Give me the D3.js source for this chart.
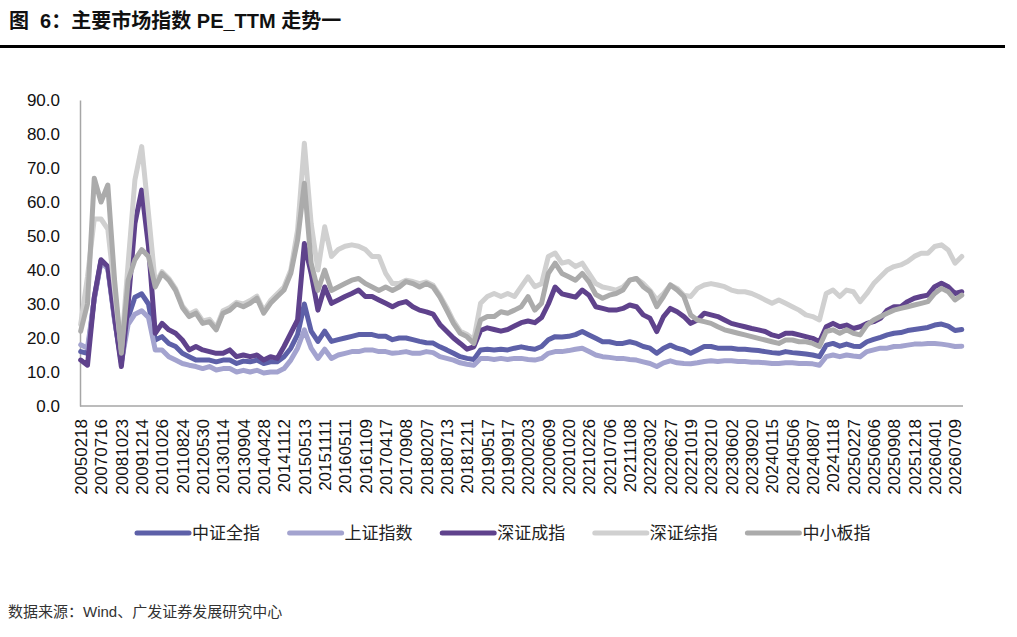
<!DOCTYPE html>
<html>
<head>
<meta charset="utf-8">
<script src="https://cdn.jsdelivr.net/npm/d3@7"></script>
<style>
  body { margin: 0; background: #fff; }
  svg text { font-family: "Liberation Sans", Arial, "Noto Sans CJK SC", sans-serif; }
</style>
</head>
<body>
<div id="main"></div>
<script>
// tick labels on the category axis; each label interval holds 3 samples
const xLabels = [
  "20050218", "20070716", "20081023", "20091214", "20101026", "20110824",
  "20120530", "20130114", "20130904", "20140428", "20141112", "20150513",
  "20151111", "20160511", "20161109", "20170417", "20170908", "20180207",
  "20180713", "20181211", "20190517", "20190917", "20200203", "20200609",
  "20201020", "20210226", "20210706", "20211108", "20220302", "20220627",
  "20221019", "20230210", "20230602", "20230920", "20240115", "20240506",
  "20240807", "20241118", "20250227", "20250606", "20250908", "20251218",
  "20260401", "20260709"
];
const stepsPerLabel = 3;

const seriesNames = ["中证全指", "上证指数", "深证成指", "深证综指", "中小板指"];
const seriesColors = ["#5d60a8", "#a3a3cf", "#5f428c", "#d0d0d0", "#ababab"];

// 中证全指
const zzqz = [
  16, 15.5, 31.7, 42.7, 40.7, 25.6, 13, 26, 32, 33,
  30, 19.4, 20.4, 18.4, 17.5, 15.5, 14.5, 13.5, 13.5, 13.5,
  13, 13.5, 13.5, 12.5, 13.2, 13, 13.5, 12.5, 13, 13,
  14.5, 17, 21, 30, 22, 19, 22, 19, 19.5, 20,
  20.5, 21, 21, 21, 20.5, 20.5, 19.5, 20, 20, 19.5,
  19, 18.6, 18.5, 17.4, 16.5, 15.5, 14.5, 14, 13.7, 16.5,
  16.7, 16.5, 16.7, 16.5, 17, 17.4, 17, 16.7, 17.5, 19.5,
  20.4, 20.3, 20.5, 21, 21.9, 20.9, 19.9, 18.9, 18.9, 18.4,
  18.4, 18.9, 18.4, 17.5, 17, 15.5, 17, 17.9, 17, 16.5,
  15.5, 16.5, 17.5, 17.5, 17, 17, 17, 16.7, 16.7, 16.5,
  16.3, 16, 15.7, 15.5, 16, 15.7, 15.5, 15.3, 15, 14.5,
  17.9, 18.4, 17.6, 18.2, 17.6, 17.5, 18.9, 19.6, 20.2, 20.9,
  21.4, 21.6, 22.2, 22.5, 22.8, 23.1, 23.8, 24.1, 23.5, 22.2, 22.5
];
// 上证指数
const szzs = [
  18, 17, 31.4, 42.4, 40.4, 25.2, 12.8, 24, 27, 28,
  26, 16.5, 16.5, 14.5, 13.5, 12.5, 12, 11.6, 11, 11.6,
  10.6, 11, 11, 10, 10.5, 10, 10.5, 9.7, 10, 10,
  11, 13.5, 17, 22.4, 17, 14, 16.7, 14, 15, 15.5,
  16, 16, 16.5, 16.5, 16, 16, 15.5, 15.7, 16, 15.5,
  15.5, 16, 15.7, 14.5, 14, 13.5, 12.7, 12.3, 12, 14,
  14, 13.7, 14, 13.7, 14, 14, 13.7, 13.5, 14, 15.5,
  16, 16, 16.3, 16.7, 17, 16, 15, 14.5, 14.3, 14,
  14, 13.7, 13.5, 13, 12.5, 11.6, 12.7, 13.3, 12.7, 12.5,
  12.4, 12.7, 13.1, 13.3, 13.1, 13.3, 13.3, 13.1, 13.1, 12.9,
  12.9, 12.7, 12.5, 12.5, 12.7, 12.7, 12.5, 12.5, 12.4, 12,
  14.5, 15, 14.5, 15, 14.7, 14.5, 16, 16.5, 17, 17,
  17.5, 17.6, 17.9, 18.2, 18.2, 18.4, 18.4, 18.2, 17.9, 17.5, 17.6
];
// 深证成指
const szcz = [
  13.5, 12, 32, 43, 41, 26, 11.6, 30, 53.7, 63.5,
  47, 21.4, 24.3, 22.4, 21.4, 19.4, 16.5, 17.5, 16.5, 16,
  15.5, 15.5, 16.5, 14.5, 15, 14.5, 15, 13.5, 14.5, 14,
  17.5, 21.4, 25.3, 47.8, 39, 28.2, 35, 30.2, 31.2, 32.2,
  33.1, 34.1, 32.2, 32.2, 31.2, 30.2, 29.2, 30.2, 30.7, 29.2,
  28.2, 27.7, 27, 24, 22, 20, 18.4, 16.7, 17.4, 22.2,
  23, 22.5, 22, 22.5, 23.5, 24.5, 25, 24.5, 26, 30,
  35, 33, 32.5, 32, 34.1, 32.6, 29.2, 28.7, 28.2, 28.2,
  28.7, 29.7, 29.2, 26.8, 25.8, 21.9, 26.3, 28.7, 27.7, 26.3,
  24.3, 25.3, 27.3, 26.8, 26.3, 25.3, 24.3, 23.8, 23.3, 22.8,
  22.4, 21.9, 20.9, 20.4, 21.4, 21.4, 20.9, 20.4, 19.9, 18.9,
  23.3, 24.3, 23.3, 23.8, 22.8, 23.3, 24.3, 24.8, 25.8, 28.2,
  29.2, 29.2, 30.7, 31.7, 32.2, 32.6, 35.1, 36.1, 35.1, 33.1, 33.6
];
// 深证综指
const szzz = [
  24, 38, 55, 55, 52, 34, 16.5, 42, 66.5, 76.3,
  56.7, 36, 39.5, 37.5, 34.5, 29.5, 27, 28, 25, 25.5,
  23, 28, 29, 30.5, 30, 31, 32.3, 28, 31, 33,
  35, 40, 51.8, 77.3, 53.7, 40, 52.7, 44, 46, 47,
  47.4, 47, 46, 44, 44, 39, 36, 36, 37, 36.6,
  36, 36.5, 35.5, 32.5, 29, 25, 22, 21, 19.5, 30.2,
  32.2, 33.1, 32.2, 33.1, 32.2, 35.1, 38, 35.1, 36, 44,
  45, 42, 42.5, 41, 42, 39, 36, 35, 34.6, 34.1,
  35, 37, 37.5, 36, 34, 31.2, 33.1, 35.6, 34.6, 32.6,
  32.2, 34.6, 35.6, 36, 35.6, 35.1, 34.1, 33.6, 33.6, 33.1,
  32.2, 31.2, 30.2, 31.2, 30.2, 29.2, 28.2, 26.8, 26.3, 25.3,
  33.1, 34.1, 32.2, 34.1, 33.6, 30.7, 33.1, 36, 38, 40,
  41, 41.5, 42.5, 44, 44.9, 44.9, 46.9, 47.4, 45.9, 42, 44
];
// 中小板指
const zxbz = [
  22, 30, 67, 60, 65, 37, 15.5, 37, 43, 46,
  44, 35, 39, 37, 34, 29, 26.3, 27.3, 24.3, 24.8,
  22.4, 27.3, 28.2, 30, 29.2, 30.2, 31.7, 27.3, 30.2, 32.2,
  34.1, 39, 48.8, 65.5, 42, 34, 40, 34, 35, 36,
  37, 37.5, 36, 35, 34, 35, 34, 35, 36.6, 36,
  35, 36, 35, 32, 28.2, 24.3, 21.4, 20.4, 18.4, 25.3,
  26.3, 26.3, 27.7, 27.3, 28.2, 29.2, 32.2, 28.2, 30.2, 39,
  42, 39, 38, 37, 39, 36.5, 32.8, 31.7, 32.6, 33.1,
  34.1, 37, 37.5, 35.1, 33.6, 29.2, 32.2, 35.6, 34.1, 32.2,
  26.8, 25.3, 24.8, 24.3, 23.3, 22.4, 21.9, 21.4, 20.9, 20.4,
  19.9, 19.4, 18.9, 18.4, 19.4, 19.4, 18.9, 18.9, 18.4, 17.5,
  21.9, 22.4, 21.4, 22.4, 21.4, 20.9, 23.8, 25.3, 26.3, 27.3,
  28.2, 28.7, 29.2, 29.7, 30.2, 30.7, 33.1, 34.6, 33.6, 31.2, 32.6
];
const yTicks = [0, 10, 20, 30, 40, 50, 60, 70, 80, 90];

const allSeries = [zzqz, szzs, szcz, szzz, zxbz];

const width = 1017;
const height = 637;
const plotLeft = 80;
const plotRight = 963;
const plotTop = 100;
const plotBottom = 406;
const fontFamily = '"Liberation Sans", Arial, "Noto Sans CJK SC", sans-serif';

const svg = d3.select("#main").append("svg")
  .attr("width", width)
  .attr("height", height)
  .style("background", "#fff");

// title + rule
svg.append("text")
  .attr("x", 9)
  .attr("y", 28)
  .style("font-size", "20px")
  .style("font-weight", "bold")
  .style("fill", "#111")
  .style("white-space", "pre")
  .text("图\u00a0\u00a06：主要市场指数 PE_TTM 走势一");
svg.append("line")
  .attr("x1", 0).attr("x2", 1005)
  .attr("y1", 46.5).attr("y2", 46.5)
  .attr("stroke", "#000")
  .attr("stroke-width", 3);

const x = d3.scaleLinear()
  .domain([0, xLabels.length - 1])
  .range([80.7, 955]);

const y = d3.scaleLinear()
  .domain([0, 90])
  .range([plotBottom, plotTop]);

// y axis
const yAxis = svg.append("g")
  .attr("transform", `translate(${plotLeft}, 0)`)
  .call(d3.axisLeft(y).tickValues(yTicks).tickFormat(d3.format(".1f")).tickSize(0).tickPadding(20));
yAxis.select(".domain").attr("stroke", "#a6a6a6").attr("stroke-width", 1.5);
yAxis.selectAll("text")
  .style("font-size", "17px")
  .style("font-family", fontFamily)
  .style("fill", "#111");

// x axis
const xAxis = svg.append("g")
  .attr("transform", `translate(0, ${plotBottom})`)
  .call(d3.axisBottom(x).tickValues(d3.range(xLabels.length)).tickFormat((i) => xLabels[i]).tickSize(0));
xAxis.select(".domain").remove();
xAxis.selectAll("text")
  .attr("transform", "rotate(-90)")
  .attr("text-anchor", "end")
  .attr("x", -13)
  .attr("y", 0)
  .attr("dy", "0.35em")
  .style("font-size", "17px")
  .style("font-family", fontFamily)
  .style("fill", "#111");
svg.append("line")
  .attr("x1", plotLeft).attr("x2", plotRight)
  .attr("y1", plotBottom).attr("y2", plotBottom)
  .attr("stroke", "#a6a6a6")
  .attr("stroke-width", 1.5);

// lines
const line = d3.line()
  .x((d, j) => x(j / stepsPerLabel))
  .y((d) => y(d));

svg.append("g")
  .selectAll("path")
  .data(allSeries)
  .enter()
  .append("path")
  .attr("d", (d) => line(d))
  .attr("fill", "none")
  .attr("stroke", (d, i) => seriesColors[i])
  .attr("stroke-width", 5)
  .attr("stroke-linejoin", "round")
  .attr("stroke-linecap", "round");

// legend
const legend = svg.append("g")
  .selectAll("g")
  .data(seriesNames)
  .enter()
  .append("g")
  .attr("transform", (d, i) => `translate(${137 + i * 152.6}, 533)`);
legend.append("line")
  .attr("x1", 0).attr("x2", 52)
  .attr("stroke", (d, i) => seriesColors[i])
  .attr("stroke-width", 5)
  .attr("stroke-linecap", "round");
legend.append("text")
  .attr("x", 55)
  .attr("dy", "0.36em")
  .style("font-size", "17px")
  .style("fill", "#222")
  .text((d) => d);

// source note
svg.append("text")
  .attr("x", 8)
  .attr("y", 617)
  .style("font-size", "15px")
  .style("fill", "#333")
  .text("数据来源：Wind、广发证券发展研究中心");
</script>
</body>
</html>
